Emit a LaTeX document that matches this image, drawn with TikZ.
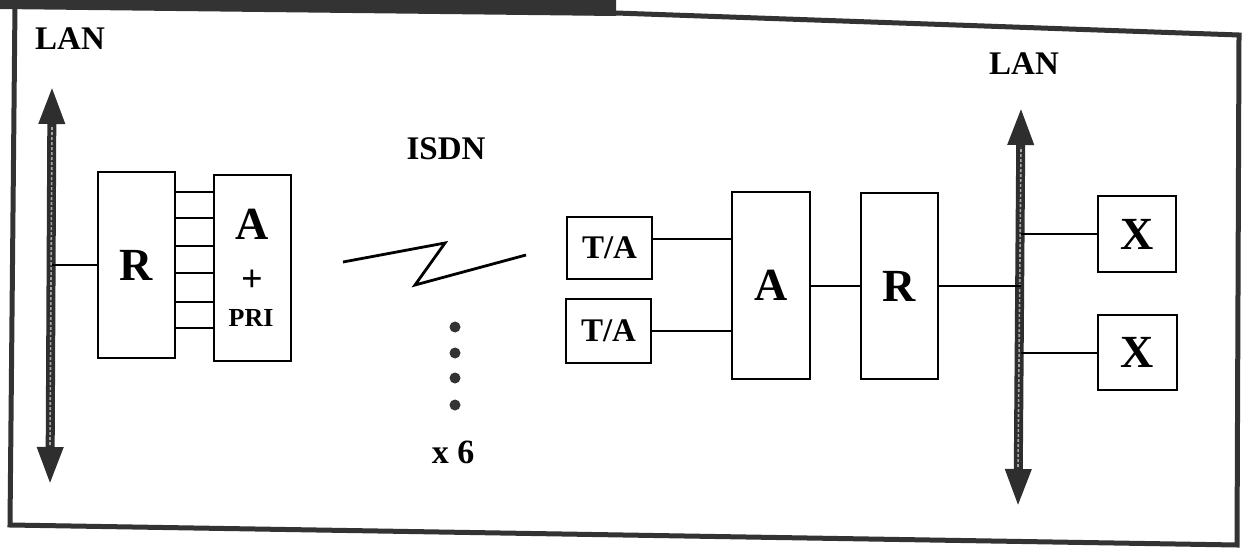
\documentclass[tikz,border=0pt]{standalone}
\usepackage{fontspec}
\setmainfont{Liberation Serif}
\usetikzlibrary{arrows.meta}
\tikzset{
  boxn/.style={draw, line width=2.2pt, inner sep=0pt},
  conn/.style={line width=2pt},
  biglet/.style={font=\fontsize{46}{46}\selectfont\bfseries},
  lbl/.style={font=\fontsize{33}{33}\selectfont\bfseries, anchor=base, inner sep=0pt},
  framel/.style={draw=black!80, line width=5pt, line join=miter},
  lanbus/.style={draw=black!82, line width=9pt,
    {Triangle[width=24pt,length=38pt]}-{Triangle[width=24pt,length=38pt]}},
  lanstreak/.style={draw=black!35, line width=1.6pt, densely dashed},
  dotn/.style={circle, fill=black!80, minimum size=11pt, inner sep=0pt}
}
\begin{document}
\begin{tikzpicture}[x=1pt,y=-1pt]
\useasboundingbox (0,0) rectangle (1246,548);
% scanned frame
\fill[black!80] (0,0) -- (616,0) -- (616,16) -- (0,9) -- cycle;
\draw[framel] (15,4) -- (616,13) -- (1239,35) -- (1237,545) -- (10,525) -- cycle;

% labels
\node[lbl] (lanLlbl) at (70,50) {LAN};
\node[lbl] (lanRlbl) at (1024,75) {LAN};
\node[lbl] (isdn) at (446,160) {ISDN};
\node[lbl, font=\fontsize{34}{34}\selectfont\bfseries] (x6) at (453,463) {x 6};

% LAN buses
\coordinate (lanLtop) at (52,86);
\coordinate (lanLbot) at (50,485);
\coordinate (lanRtop) at (1021,107);
\coordinate (lanRbot) at (1018,507);
\draw[lanbus] (lanLbot) -- (lanLtop);
\draw[lanstreak] ([yshift=40pt]lanLbot) -- ([yshift=-40pt]lanLtop);
\draw[lanbus] (lanRbot) -- (lanRtop);
\draw[lanstreak] ([yshift=40pt]lanRbot) -- ([yshift=-40pt]lanRtop);

% left side
\node[boxn, biglet, minimum width=77pt, minimum height=186pt] (R) at (136.5,265) {R};
\node[boxn, minimum width=77pt, minimum height=186pt] (AP) at (252.5,268) {};
\node[lbl, font=\fontsize{46}{46}\selectfont\bfseries] (APa) at (252.5,239) {A};
\node[inner sep=0pt, font=\fontsize{38}{38}\selectfont\bfseries] (APp) at (252.5,281) {+};
\node[lbl, font=\fontsize{26}{26}\selectfont\bfseries] (APr) at (251,326) {PRI};
\draw[conn] (R.west) -- (R.west -| lanLtop);
\foreach \y in {192,218,246,273,302,328}
  \draw[conn] (R.east |- 0,\y) -- (AP.west |- 0,\y);

% ISDN link
\coordinate (z1) at (343,262);
\coordinate (z2) at (445,243);
\coordinate (z3) at (415,285);
\coordinate (z4) at (526,255);
\draw[line width=2.8pt, line join=miter] (z1) -- (z2) -- (z3) -- (z4);
\node[dotn] (d1) at (455,327) {};
\node[dotn] (d2) at (455,353) {};
\node[dotn] (d3) at (455,378) {};
\node[dotn] (d4) at (455,405) {};

% right side
\node[boxn, lbl, anchor=center, inner sep=0pt, minimum width=85pt, minimum height=62pt] (TA1) at (609.5,248) {T/A};
\node[boxn, lbl, anchor=center, inner sep=0pt, minimum width=85pt, minimum height=64pt] (TA2) at (608.5,331) {T/A};
\node[boxn, biglet, minimum width=78pt, minimum height=187pt] (Am) at (771,285.5) {A};
\node[boxn, biglet, minimum width=77pt, minimum height=186pt] (Rr) at (899.5,286) {R};
\node[boxn, biglet, minimum width=78pt, minimum height=76pt] (X1) at (1137,234) {X};
\node[boxn, biglet, minimum width=79pt, minimum height=75pt] (X2) at (1137.5,352.5) {X};

\draw[conn] ([yshift=9pt]TA1.east) -- ([yshift=9pt]TA1.east -| Am.west);
\draw[conn] (TA2.east) -- (TA2.east -| Am.west);
\draw[conn] (Am.east) -- (Am.east -| Rr.west);
\draw[conn] (Rr.east) -- (Rr.east -| lanRtop);
\draw[conn] (X1.west -| lanRtop) -- (X1.west);
\draw[conn] (X2.west -| lanRtop) -- (X2.west);
\end{tikzpicture}
\end{document}
